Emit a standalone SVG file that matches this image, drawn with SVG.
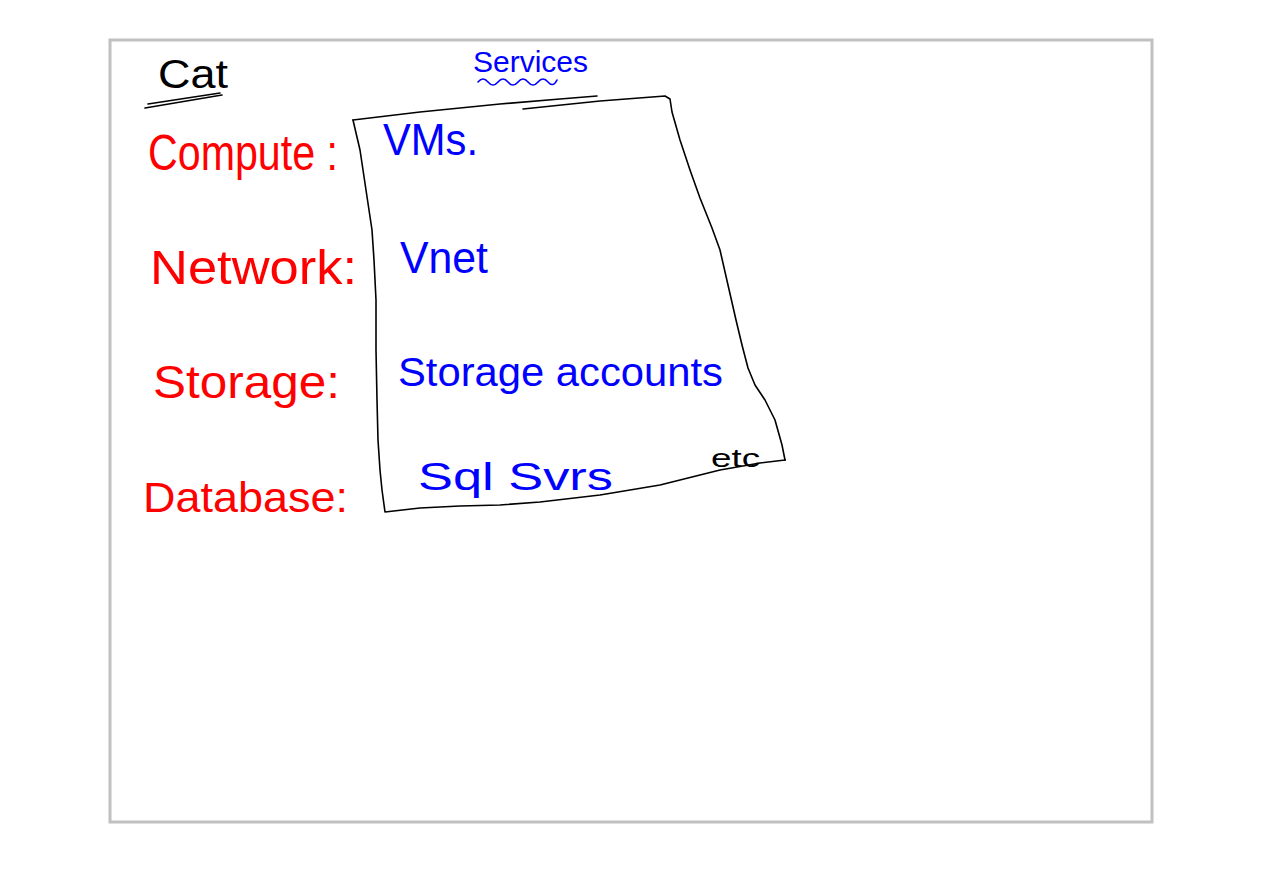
<svg xmlns="http://www.w3.org/2000/svg" width="1263" height="893" viewBox="0 0 1263 893">
  <style>
    .cat { font-family: "Liberation Sans", "DejaVu Sans", sans-serif; fill: #ff0000; }
    .svc { font-family: "Liberation Sans", "DejaVu Sans", sans-serif; fill: #0000ff; }
    .blk { font-family: "Liberation Sans", "DejaVu Sans", sans-serif; fill: #000000; }
    .ink { fill: none; stroke: #000; stroke-width: 1.6; stroke-linecap: round; stroke-linejoin: round; }
    .blueink { fill: none; stroke: #0000ff; stroke-width: 1.6; stroke-linecap: round; stroke-linejoin: round; }
  </style>
  <rect x="0" y="0" width="1263" height="893" fill="#ffffff"/>
  <rect id="frame" x="110" y="40" width="1042" height="782" fill="#ffffff" stroke="#c0c0c0" stroke-width="3"/>

  <g id="header-cat">
    <text class="blk" x="158" y="88" font-size="40" textLength="70" lengthAdjust="spacingAndGlyphs">Cat</text>
    <path class="ink" d="M145,108 L222,95"/>
    <path class="ink" d="M148,104 L220,93"/>
  </g>
  <g id="header-services">
    <text class="svc" x="473" y="72" font-size="30" textLength="115" lengthAdjust="spacingAndGlyphs">Services</text>
    <path class="blueink" d="M478,82 q5,-6 10,0 q5,6 10,0 q5,-6 10,0 q5,6 10,0 q5,-6 10,0 q5,6 10,0 q5,-6 10,0 q5,6 9,-2"/>
  </g>

  <g id="services-box">
    <path class="ink" d="M353,120 L420,112 L500,104 L560,99 L597,96"/>
    <path class="ink" d="M523,109 L600,101 L665,96 L670,99 L672,112 L680,140 L690,170 L700,198 L712,228 L720,250 L728,285 L736,320 L742,345 L748,368 L755,385 L765,400 L775,420 L782,445 L785,460 L760,463 L720,470 L660,485 L600,495 L540,502 L500,505 L460,506 L420,508 L385,512 L382,490 L380,470 L378,440 L377,400 L376,350 L376,300 L374,260 L372,230 L366,190 L360,150 L353,120"/>
    <circle cx="785" cy="460" r="1" fill="#000"/>
  </g>

  <g id="compute">
    <text class="cat" x="148" y="170" font-size="50" textLength="190" lengthAdjust="spacingAndGlyphs">Compute :</text>
    <text class="svc" x="383" y="155" font-size="44" textLength="95" lengthAdjust="spacingAndGlyphs">VMs.</text>
  </g>
  <g id="network">
    <text class="cat" x="150" y="284" font-size="48" textLength="207" lengthAdjust="spacingAndGlyphs">Network:</text>
    <text class="svc" x="400" y="273" font-size="44" textLength="88" lengthAdjust="spacingAndGlyphs">Vnet</text>
  </g>
  <g id="storage">
    <text class="cat" x="153" y="398" font-size="46" textLength="187" lengthAdjust="spacingAndGlyphs">Storage:</text>
    <text class="svc" x="398" y="386" font-size="40" textLength="325" lengthAdjust="spacingAndGlyphs">Storage accounts</text>
  </g>
  <g id="database">
    <text class="cat" x="143" y="512" font-size="42" textLength="205" lengthAdjust="spacingAndGlyphs">Database:</text>
    <text class="svc" x="418" y="490" font-size="38" textLength="195" lengthAdjust="spacingAndGlyphs">Sql Svrs</text>
  </g>
  <g id="etc">
    <text class="blk" x="711" y="467" font-size="26" textLength="49" lengthAdjust="spacingAndGlyphs">etc</text>
  </g>
  <g id="connectors"></g>
</svg>
